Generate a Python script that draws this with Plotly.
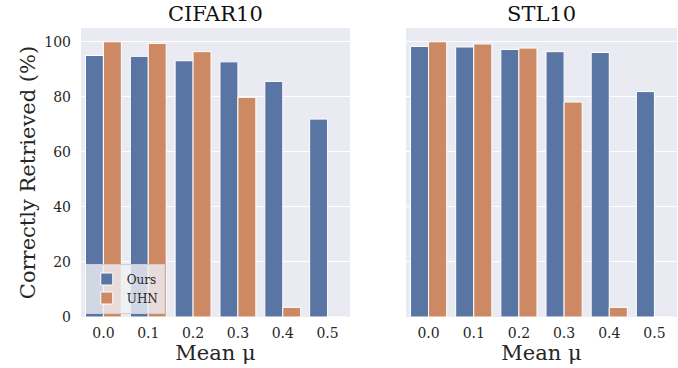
import plotly.graph_objects as go

categories = ["0.0", "0.1", "0.2", "0.3", "0.4", "0.5"]
cifar_ours = [95.0, 94.7, 93.1, 92.7, 85.6, 71.9]
cifar_uhn = [100.0, 99.4, 96.4, 79.8, 3.5, 0.0]
stl_ours = [98.3, 98.1, 97.2, 96.4, 96.1, 81.9]
stl_uhn = [100.0, 99.2, 97.7, 78.1, 3.5, 0.0]
titles = ["CIFAR10", "STL10"]

BLUE = "#5975a4"
ORANGE = "#cc8963"
FONT = "DejaVu Serif"
TXT = "#262626"

fig = go.Figure()
for i, (ours, uhn) in enumerate([(cifar_ours, cifar_uhn), (stl_ours, stl_uhn)]):
    xa = "x" if i == 0 else "x2"
    ya = "y" if i == 0 else "y2"
    fig.add_trace(go.Bar(x=categories, y=ours, name="Ours", marker=dict(color=BLUE, line=dict(color="white", width=1)),
                         xaxis=xa, yaxis=ya, showlegend=(i == 0), legendgroup="ours"))
    fig.add_trace(go.Bar(x=categories, y=uhn, name="UHN", marker=dict(color=ORANGE, line=dict(color="white", width=1)),
                         xaxis=xa, yaxis=ya, showlegend=(i == 0), legendgroup="uhn"))

W, H = 678, 368
ml, mr, mt, mb = 81, 1, 28, 51
pw = W - ml - mr
d1 = [0, (350 - ml) / pw]
d2 = [(406 - ml) / pw, 1]

axis_common = dict(showgrid=False, showline=False, zeroline=False, ticks="", automargin=False,
                   ticklabelstandoff=6,
                   tickfont=dict(family=FONT, size=14, color=TXT), range=[-0.5, 5.5])
yaxis_common = dict(range=[0, 105], tickvals=[0, 20, 40, 60, 80, 100], showgrid=True, gridcolor="white",
                    gridwidth=1, zeroline=False, showline=False, ticks="", automargin=False,
                    tickfont=dict(family=FONT, size=14, color=TXT))

fig.update_layout(
    width=W, height=H,
    margin=dict(l=ml, r=mr, t=mt, b=mb),
    paper_bgcolor="white", plot_bgcolor="#eaeaf2",
    barmode="group", bargap=0.2, bargroupgap=0.0,
    xaxis=dict(domain=d1, **axis_common, title=dict(text="Mean μ", font=dict(family=FONT, size=21, color=TXT), standoff=3)),
    xaxis2=dict(domain=d2, **axis_common, anchor="y2", title=dict(text="Mean μ", font=dict(family=FONT, size=21, color=TXT), standoff=3)),
    yaxis=dict(domain=[0, 1], **yaxis_common, ticklabelstandoff=9,
               title=dict(text="Correctly Retrieved (%)", font=dict(family=FONT, size=21, color=TXT), standoff=2)),
    yaxis2=dict(domain=[0, 1], anchor="x2", showticklabels=False, **{k: v for k, v in yaxis_common.items() if k != "tickfont"}),
    legend=dict(x=0.008, y=0.012, xanchor="left", yanchor="bottom", bgcolor="rgba(240,240,246,0.8)",
                bordercolor="#d0d0d0", borderwidth=1, font=dict(family=FONT, size=12, color=TXT),
                tracegroupgap=0, itemwidth=30),
    font=dict(family=FONT, color=TXT),
)

for i, t in enumerate(titles):
    d = d1 if i == 0 else d2
    fig.add_annotation(text=t, x=(d[0] + d[1]) / 2, y=1.0, xref="paper", yref="paper",
                       xanchor="center", yanchor="bottom", yshift=0, showarrow=False,
                       font=dict(family=FONT, size=21, color="#111"))

fig.write_html("out.html", config={"displayModeBar": False},
               post_script="document.body.style.margin='0';")
